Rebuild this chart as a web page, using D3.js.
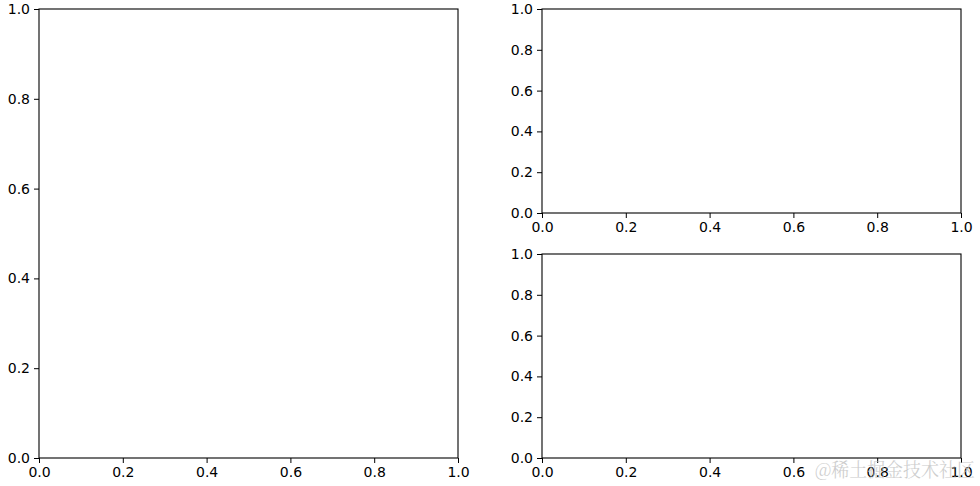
<!DOCTYPE html>
<html>
<head>
<meta charset="utf-8">
<script src="https://cdn.jsdelivr.net/npm/d3@7"></script>
<style>
  body { margin: 0; background: #fff; }
  svg { display: block; }
  .tick text { font-family: "DejaVu Sans", sans-serif; font-size: 14px; fill: #000; }
  .tick line { stroke: #000; }
</style>
</head>
<body>
<svg id="chart" width="980" height="486"></svg>
<script>
// three empty subplots, all with 0..1 axes
var xTicks = [0, 0.2, 0.4, 0.6, 0.8, 1.0]
var yTicks = [0, 0.2, 0.4, 0.6, 0.8, 1.0]
var panels = [
    {name: "left",   x0: 39,  x1: 458, y0: 9,   y1: 458},
    {name: "rtop",   x0: 542, x1: 961, y0: 9,   y1: 213},
    {name: "rbottom",x0: 542, x1: 961, y0: 254, y1: 458}
]
var watermark = "@稀土掘金技术社区"

var svg = d3.select("#chart")

panels.forEach(function(p){
    var x = d3.scaleLinear().domain([0,1]).range([p.x0, p.x1])
    var y = d3.scaleLinear().domain([0,1]).range([p.y1, p.y0])

    var g = svg.append("g").attr("id", "panel_" + p.name)

    g.append("rect")
      .attr("x", p.x0).attr("y", p.y0)
      .attr("width", p.x1 - p.x0).attr("height", p.y1 - p.y0)
      .style("fill", "white")

    var xAxis = d3.axisBottom(x).tickValues(xTicks).tickFormat(d3.format(".1f"))
        .tickSizeInner(5).tickSizeOuter(0).tickPadding(4)
    var yAxis = d3.axisLeft(y).tickValues(yTicks).tickFormat(d3.format(".1f"))
        .tickSizeInner(5).tickSizeOuter(0).tickPadding(4)

    g.append("g").attr("transform", "translate(0," + p.y1 + ")").call(xAxis)
      .call(function(s){ s.select(".domain").remove() })
    g.append("g").attr("transform", "translate(" + p.x0 + ",0)").call(yAxis)
      .call(function(s){ s.select(".domain").remove() })

    // frame (spines)
    g.append("rect")
      .attr("x", p.x0).attr("y", p.y0)
      .attr("width", p.x1 - p.x0).attr("height", p.y1 - p.y0)
      .style("fill", "none").style("stroke", "#000").style("stroke-width", 1.1)
})

svg.selectAll(".tick text").attr("font-family", null).attr("font-size", null)

// watermark (sits over the last x labels, as in the original)
svg.append("text")
  .attr("x", 815).attr("y", 477)
  .attr("textLength", 160)
  .attr("lengthAdjust", "spacingAndGlyphs")
  .style("font-family", "'Noto Serif CJK SC', 'Noto Sans CJK SC', serif")
  .style("font-size", "19px")
  .style("font-weight", 300)
  .style("fill", "#c4c4c4")
  .style("opacity", 0.85)
  .text(watermark)
</script>
</body>
</html>
